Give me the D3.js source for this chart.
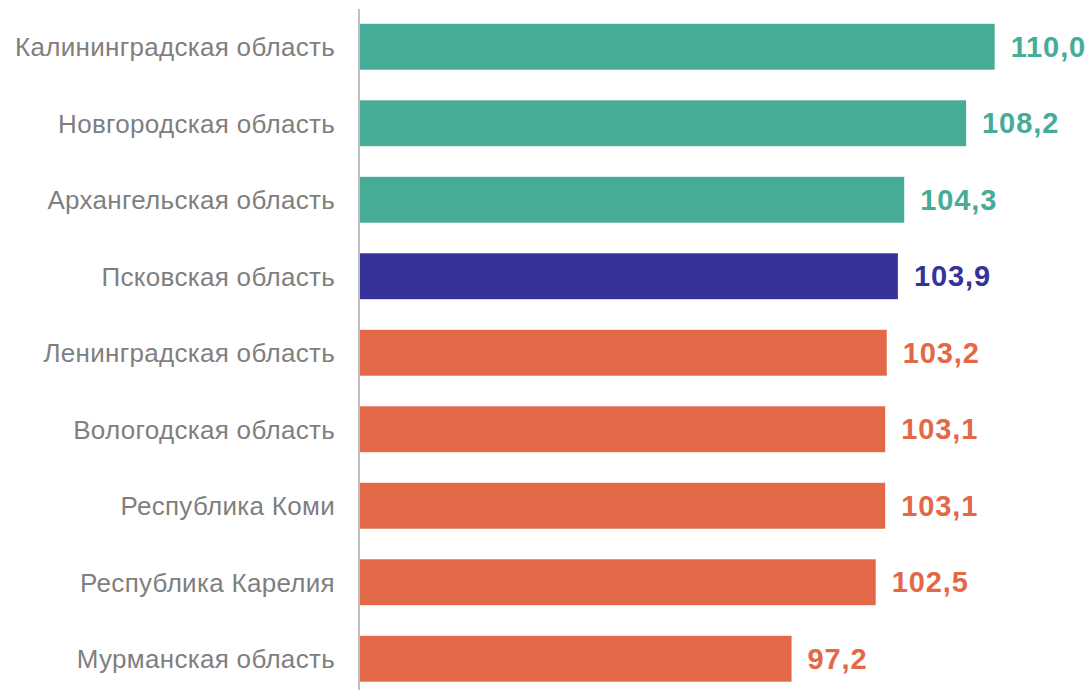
<!DOCTYPE html>
<html lang="ru">
<head>
    <meta charset="UTF-8">
    <title>Регионы</title>
    <style>
        body { margin: 0; background: #fff; }
        svg { display: block; font-family: "Liberation Sans", Arial, sans-serif; }
        .cat-label { font-size: 26px; fill: #7f7f7f; letter-spacing: 0.3px; }
        .val-label { font-size: 29px; font-weight: bold; letter-spacing: 0.9px; }
    </style>
</head>
<body>
    <svg id="chart" width="1091" height="690"></svg>
    <script src="https://d3js.org/d3.v7.min.js"></script>
    <script>
    // data
    const regions = [
        "Калининградская область",
        "Новгородская область",
        "Архангельская область",
        "Псковская область",
        "Ленинградская область",
        "Вологодская область",
        "Республика Коми",
        "Республика Карелия",
        "Мурманская область"
    ];
    const values = [110.0, 108.2, 104.3, 103.9, 103.2, 103.1, 103.1, 102.5, 97.2];
    const groups = ["high", "high", "high", "self", "low", "low", "low", "low", "low"];

    const colors = { high: "#46ab97", self: "#353399", low: "#e36847" };

    const svg = d3.select("#chart");
    const x0 = 360;

    const x = d3.scaleLinear().domain([70, 115]).range([x0, 1074]);
    const y = d3.scaleBand().domain(regions).range([8.5, 697]).paddingInner(0.4).paddingOuter(0.2);

    const rows = regions.map((r, i) => ({ name: r, value: values[i], group: groups[i] }));

    svg.selectAll("rect.bar")
        .data(rows)
        .join("rect")
        .attr("class", "bar")
        .attr("x", x0)
        .attr("y", d => y(d.name))
        .attr("width", d => x(d.value) - x0)
        .attr("height", y.bandwidth())
        .attr("fill", d => colors[d.group]);

    // category labels
    svg.selectAll("text.cat-label")
        .data(rows)
        .join("text")
        .attr("class", "cat-label")
        .attr("x", 335)
        .attr("y", d => y(d.name) + y.bandwidth() / 2)
        .attr("dy", "0.36em")
        .attr("text-anchor", "end")
        .text(d => d.name);

    // value labels
    const fmt = v => v.toFixed(1).replace(".", ",");
    svg.selectAll("text.val-label")
        .data(rows)
        .join("text")
        .attr("class", "val-label")
        .attr("x", d => x(d.value) + 16)
        .attr("y", d => y(d.name) + y.bandwidth() / 2)
        .attr("dy", "0.35em")
        .attr("fill", d => colors[d.group])
        .text(d => fmt(d.value));

    // vertical axis line
    svg.append("line")
        .attr("x1", 359).attr("x2", 359)
        .attr("y1", 9).attr("y2", 690)
        .attr("stroke", "#bfbfbf")
        .attr("stroke-width", 2);
    </script>
</body>
</html>
